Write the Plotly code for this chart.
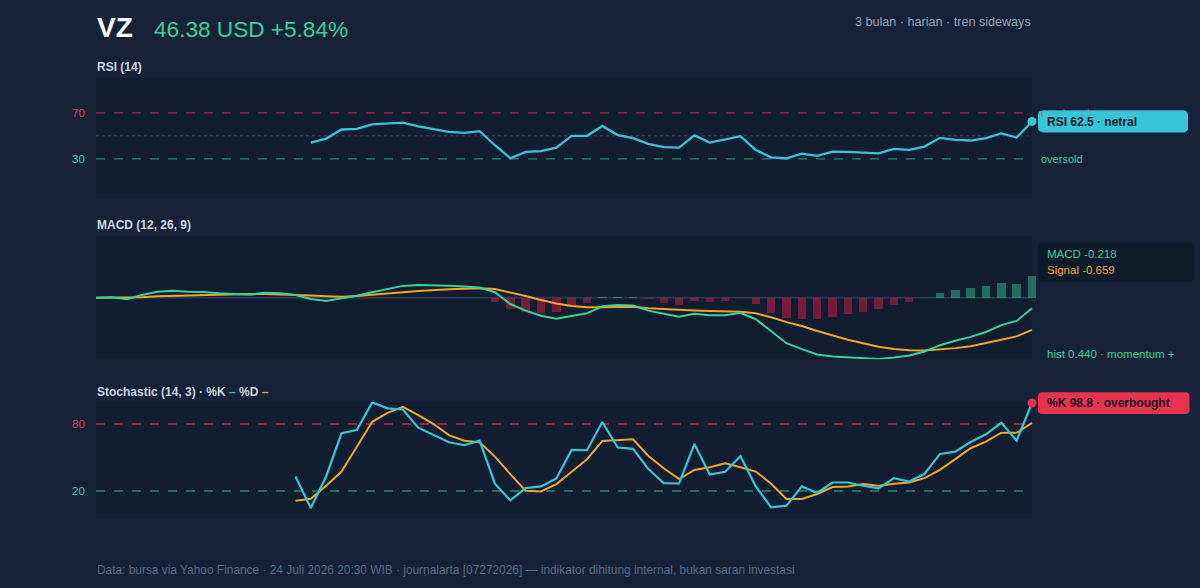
import plotly.graph_objects as go

W, H = 1200, 588

# ---------------- data ----------------
days = list(range(62))

rsi = [None] * 14 + [
    44.1, 47.6, 55.5, 56.1, 59.9, 60.5, 61.4, 58.2, 55.9, 53.5, 52.6, 54.1,
    41.8, 30.4, 36.0, 36.6, 39.7, 50.0, 50.0, 58.6, 50.6, 48.0, 43.0, 40.1,
    39.7, 50.3, 44.1, 47.1, 49.7, 37.7, 31.3, 30.4, 34.5, 32.5, 36.2, 36.0,
    35.1, 34.8, 38.6, 37.7, 40.6, 48.2, 46.5, 45.9, 48.0, 52.0, 48.5, 62.5]

macd = [
    0.0, 0.01, -0.03, 0.055, 0.12, 0.14, 0.12, 0.115, 0.09, 0.075,
    0.06, 0.10, 0.09, 0.055, -0.027, -0.067, -0.02, 0.04, 0.11, 0.18,
    0.24, 0.26, 0.26, 0.245, 0.225, 0.205, 0.11, -0.13, -0.265, -0.37,
    -0.43, -0.37, -0.32, -0.175, -0.15, -0.16, -0.265, -0.33, -0.39, -0.33,
    -0.36, -0.36, -0.31, -0.44, -0.69, -0.93, -1.05, -1.16, -1.2, -1.22,
    -1.235, -1.25, -1.22, -1.18, -1.10, -0.97, -0.88, -0.80, -0.70, -0.56,
    -0.475, -0.218]

signal = [
    0.0, 0.0, 0.0, 0.01, 0.03, 0.04, 0.05, 0.06, 0.068, 0.075,
    0.075, 0.075, 0.07, 0.06, 0.045, 0.03, 0.02, 0.035, 0.055, 0.08,
    0.11, 0.135, 0.157, 0.17, 0.18, 0.19, 0.175, 0.11, 0.035, -0.047,
    -0.12, -0.17, -0.196, -0.196, -0.19, -0.185, -0.216, -0.235, -0.25, -0.26,
    -0.27, -0.28, -0.29, -0.32, -0.40, -0.50, -0.58, -0.68, -0.775, -0.86,
    -0.93, -1.0, -1.05, -1.075, -1.08, -1.06, -1.03, -0.99, -0.93, -0.86,
    -0.79, -0.659]

hist = [None] * 26 + [
    -0.08, -0.24, -0.285, -0.32, -0.30, -0.20, -0.10, 0.02, 0.02, 0.01,
    -0.035, -0.11, -0.15, -0.07, -0.09, -0.065, -0.01, -0.13, -0.31, -0.42,
    -0.435, -0.44, -0.39, -0.33, -0.285, -0.24, -0.15, -0.095, -0.015, 0.10,
    0.165, 0.20, 0.24, 0.29, 0.285, 0.440]

stoch_k = [None] * 13 + [
    33.0, 4.8, 33.0, 71.7, 74.6, 99.3, 94.0, 93.0, 76.7, 70.1,
    63.6, 61.0, 65.1, 26.5, 11.6, 22.6, 24.1, 31.2, 56.8, 56.5,
    81.8, 59.0, 57.8, 39.6, 27.1, 26.7, 62.1, 34.8, 37.2, 51.2,
    24.1, 5.3, 6.9, 24.1, 18.2, 27.6, 27.6, 24.7, 22.3, 31.5,
    28.5, 35.4, 53.2, 55.3, 63.9, 70.8, 81.1, 65.1, 98.8]

stoch_d = [None] * 13 + [
    11.3, 13.1, 24.7, 37.4, 59.7, 82.0, 90.0, 95.4, 88.0, 80.0,
    70.1, 65.1, 63.6, 50.8, 35.1, 20.2, 19.6, 26.2, 37.2, 48.5,
    64.8, 65.7, 66.3, 51.4, 40.4, 30.6, 38.9, 41.3, 44.9, 41.3,
    37.4, 26.5, 12.8, 12.8, 17.3, 23.5, 24.1, 26.2, 24.7, 26.5,
    27.6, 31.5, 38.9, 48.5, 58.3, 64.2, 72.2, 72.2, 81.1]

rsi_levels = [70, 30]
stoch_levels = [80, 20]
rsi_tick_labels = ["70", "30"]
stoch_tick_labels = ["80", "20"]

ticker = "VZ"
price_text = "46.38 USD +5.84%"
subtitle = "3 bulan · harian · tren sideways"
footer = ("Data: bursa via Yahoo Finance · 24 Juli 2026 20:30 WIB · journalarta "
          "[07272026] — indikator dihitung internal, bukan saran investasi")

# ---------------- style ----------------
BG = "#152239"
PANEL = "#111d30"
CYAN = "#36c5d6"
ORANGE = "#f5a623"
GREEN = "#34d399"
RED = "#e8334f"
TITLE_C = "#cbd5e1"
FONT = "Liberation Sans, Arial, Helvetica, sans-serif"

PX0, PX1 = 96, 1032
XR = 61.3
step = (PX1 - PX0) / 61
DOM_END = (PX0 + step * XR) / W


def X(px):
    return px / W


def Y(py):
    return 1 - py / H


def rounded(x0, y0, x1, y1, r):
    return (f"M {X(x0 + r)},{Y(y0)} L {X(x1 - r)},{Y(y0)} Q {X(x1)},{Y(y0)} {X(x1)},{Y(y0 + r)} "
            f"L {X(x1)},{Y(y1 - r)} Q {X(x1)},{Y(y1)} {X(x1 - r)},{Y(y1)} "
            f"L {X(x0 + r)},{Y(y1)} Q {X(x0)},{Y(y1)} {X(x0)},{Y(y1 - r)} "
            f"L {X(x0)},{Y(y0 + r)} Q {X(x0)},{Y(y0)} {X(x0 + r)},{Y(y0)} Z")


panels = {"y": (78.3, 193.3), "y2": (236.0, 359.3), "y3": (401.7, 513.3)}

fig = go.Figure()

# RSI
fig.add_trace(go.Scatter(x=days, y=rsi, mode="lines", line=dict(color=CYAN, width=2.3),
                         xaxis="x", yaxis="y", hoverinfo="skip"))
fig.add_trace(go.Scatter(x=[days[-1]], y=[rsi[-1]], mode="markers",
                         marker=dict(color=CYAN, size=9), xaxis="x", yaxis="y",
                         cliponaxis=False, hoverinfo="skip"))

# MACD
fig.add_trace(go.Bar(x=days, y=hist, width=0.55,
                     marker=dict(color=[("rgba(52,211,153,0.45)" if (v is not None and v >= 0)
                                         else "rgba(225,29,72,0.48)") for v in hist],
                                 line=dict(width=0)),
                     xaxis="x2", yaxis="y2", hoverinfo="skip"))
fig.add_trace(go.Scatter(x=days, y=signal, mode="lines", line=dict(color=ORANGE, width=2),
                         xaxis="x2", yaxis="y2", hoverinfo="skip"))
fig.add_trace(go.Scatter(x=days, y=macd, mode="lines", line=dict(color=GREEN, width=2),
                         xaxis="x2", yaxis="y2", hoverinfo="skip"))

# Stochastic
fig.add_trace(go.Scatter(x=days, y=stoch_d, mode="lines", line=dict(color=ORANGE, width=2),
                         xaxis="x3", yaxis="y3", hoverinfo="skip"))
fig.add_trace(go.Scatter(x=days, y=stoch_k, mode="lines", line=dict(color=CYAN, width=2.2),
                         xaxis="x3", yaxis="y3", hoverinfo="skip"))
fig.add_trace(go.Scatter(x=[days[-1]], y=[stoch_k[-1]], mode="markers",
                         marker=dict(color=RED, size=9), xaxis="x3", yaxis="y3",
                         cliponaxis=False, hoverinfo="skip"))

shapes = []
# panel backgrounds
for key, (t, b) in panels.items():
    shapes.append(dict(type="rect", xref="paper", yref="paper", x0=X(PX0), x1=X(PX1),
                       y0=Y(b), y1=Y(t), fillcolor=PANEL, line=dict(width=0), layer="below"))


def hline(yref, val, color, dash, width=1.3):
    shapes.append(dict(type="line", xref="paper", yref=yref, x0=X(PX0), x1=X(PX1),
                       y0=val, y1=val, line=dict(color=color, width=width, dash=dash),
                       layer="below"))


hline("y", rsi_levels[0], "rgba(232,51,79,0.7)", "dash")
hline("y", rsi_levels[1], "rgba(52,211,153,0.6)", "dash")
hline("y", 50, "rgba(100,116,139,0.35)", "dot", 1.5)
hline("y2", 0, "#2c3a52", "solid", 1.6)
hline("y3", stoch_levels[0], "rgba(232,51,79,0.8)", "dash")
hline("y3", stoch_levels[1], "rgba(52,211,153,0.6)", "dash")

# boxes
shapes.append(dict(type="path", path=rounded(1038, 110.7, 1188, 131.7, 4), xref="paper",
                   yref="paper", fillcolor=CYAN, line=dict(width=0), layer="above"))
shapes.append(dict(type="path", path=rounded(1038, 242.3, 1194, 281.7, 5), xref="paper",
                   yref="paper", fillcolor="#0f1a2b", line=dict(width=0), layer="above"))
shapes.append(dict(type="path", path=rounded(1038, 392.3, 1189.5, 414, 4), xref="paper",
                   yref="paper", fillcolor=RED, line=dict(width=0), layer="above"))

ann = []


def text(x, y, s, size, color, bold=False, xanchor="left", yref="paper", **kw):
    ann.append(dict(x=X(x), y=(Y(y) if yref == "paper" else y),
                    xref="paper", yref=yref, text=(f"<b>{s}</b>" if bold else s),
                    showarrow=False, xanchor=xanchor, yanchor="middle",
                    font=dict(size=size, color=color, family=FONT), **kw))


text(95, 27.5, ticker, 28, "#f8fafc", bold=True)
text(151.5, 30, price_text, 22.6, GREEN)
text(1033, 21.7, subtitle, 12.6, "#94a3b8", xanchor="right")

text(95, 67.3, "RSI (14)", 12, TITLE_C, bold=True)
text(95, 225, "MACD (12, 26, 9)", 12, TITLE_C, bold=True)
text(95, 391.7,
     f"Stochastic (14, 3) · %K <span style='color:{CYAN}'>–</span> %D "
     f"<span style='color:{ORANGE}'>–</span>", 12, TITLE_C, bold=True)

# tick labels
for v, lab, c in zip(rsi_levels, rsi_tick_labels, [RED, GREEN]):
    text(87, v, lab, 11.5, c, xanchor="right", yref="y")
for v, lab, c in zip(stoch_levels, stoch_tick_labels, [RED, GREEN]):
    text(87, v, lab, 11.5, c, xanchor="right", yref="y3")

# right side labels
text(1039, rsi_levels[0], "overbought", 11, RED, yref="y")
text(1039, rsi_levels[1], "oversold", 11, GREEN, yref="y")
ann.append(dict(x=X(1042), y=Y(121.2), xref="paper", yref="paper",
                text=f"<b>RSI {rsi[-1]:.1f} · netral</b>", showarrow=False,
                xanchor="left", yanchor="middle", align="left", width=134, height=13,
                borderpad=4, bgcolor=CYAN,
                font=dict(size=12, color="#0f172a", family=FONT)))

text(1045, 254, f"MACD {macd[-1]:.3f}", 11.5, GREEN)
text(1045, 269.7, f"Signal {signal[-1]:.3f}", 11.5, ORANGE)
text(1045, 354, f"hist {hist[-1]:.3f} · momentum +", 11.5, GREEN)

text(1045, 403.2, f"%K {stoch_k[-1]:.1f} · overbought", 12, "#1a1020", bold=True)

text(95, 570, footer, 11.9, "#5b6b84")

ax_common = dict(visible=False, showgrid=False, zeroline=False, fixedrange=True)

fig.update_layout(
    width=W, height=H, margin=dict(l=0, r=0, t=0, b=0),
    paper_bgcolor=BG, plot_bgcolor="rgba(0,0,0,0)", showlegend=False,
    font=dict(family=FONT), bargap=0,
    shapes=shapes, annotations=ann,
    xaxis=dict(domain=[X(PX0), DOM_END], range=[0, XR], anchor="y", **ax_common),
    xaxis2=dict(domain=[X(PX0), DOM_END], range=[0, XR], anchor="y2", **ax_common),
    xaxis3=dict(domain=[X(PX0), DOM_END], range=[0, XR], anchor="y3", **ax_common),
    yaxis=dict(domain=[Y(panels["y"][1]), Y(panels["y"][0])], range=[0, 100], anchor="x",
               **ax_common),
    yaxis2=dict(domain=[Y(panels["y2"][1]), Y(panels["y2"][0])], range=[-1.258, 1.258],
                anchor="x2", **ax_common),
    yaxis3=dict(domain=[Y(panels["y3"][1]), Y(panels["y3"][0])], range=[0, 100], anchor="x3",
                **ax_common),
)

fig.write_html("out.html")
